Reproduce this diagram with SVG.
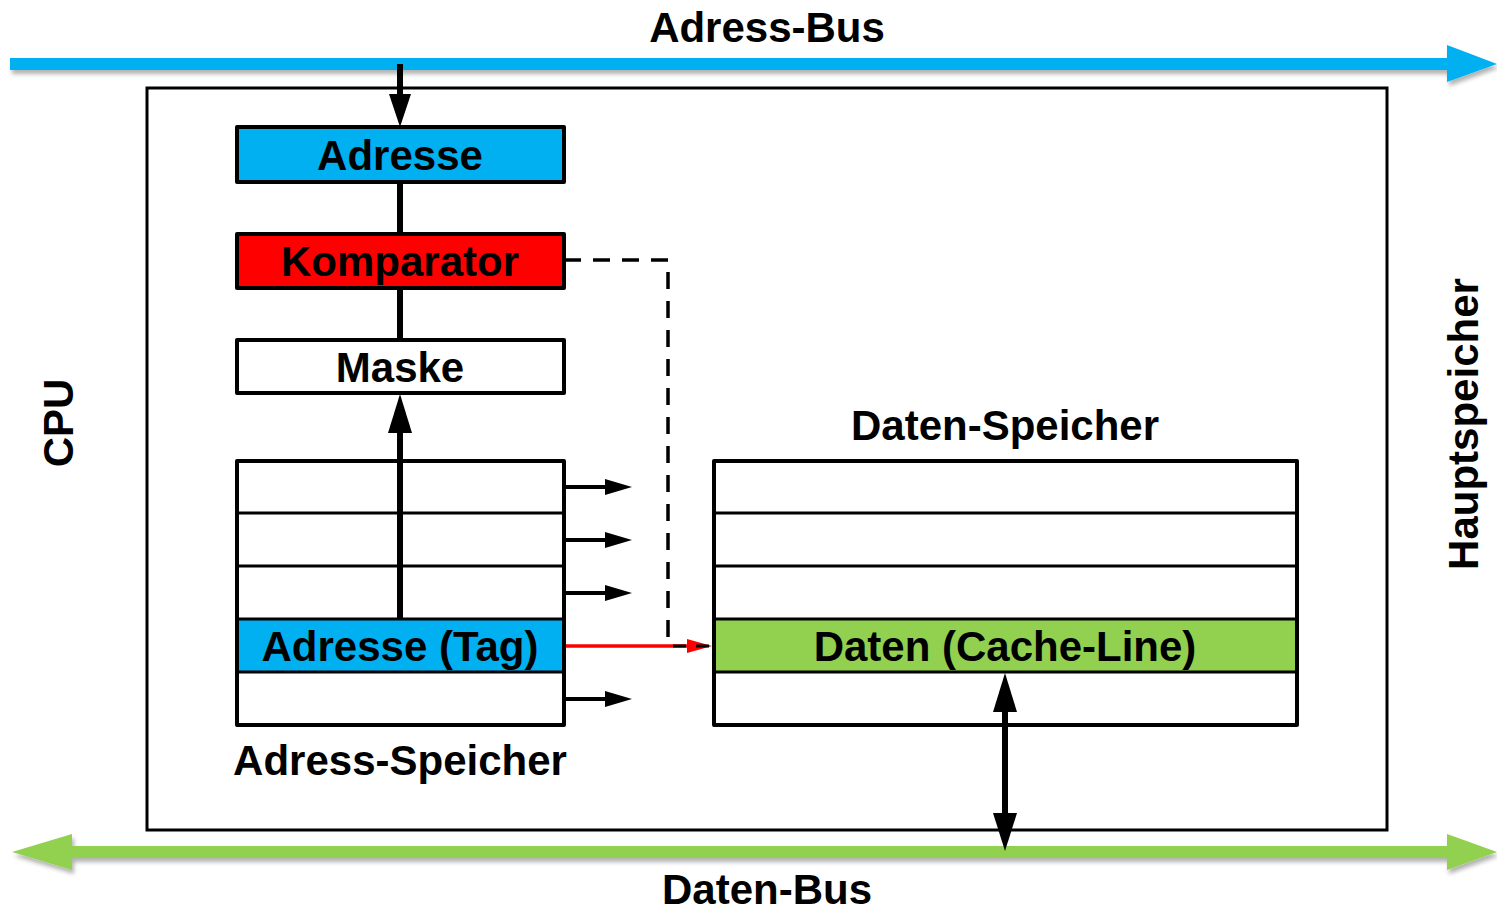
<svg xmlns="http://www.w3.org/2000/svg" width="1497" height="913" viewBox="0 0 1497 913">
<defs>
<filter id="sh" x="-5%" y="-50%" width="110%" height="200%">
<feDropShadow dx="2" dy="4" stdDeviation="2" flood-color="#000" flood-opacity="0.3"/>
</filter>
<style>
.t{font-family:"Liberation Sans",Arial,sans-serif;font-weight:bold;font-size:42px;fill:#000;text-anchor:middle}
.box{stroke:#000;stroke-width:4;stroke-linejoin:round}
.row{stroke:#000;stroke-width:3}
.ln{stroke:#000;fill:none}
</style>
</defs>
<rect width="1497" height="913" fill="#fff"/>
<g id="cpu">
<rect x="147" y="88" width="1240" height="742" fill="none" stroke="#000" stroke-width="3"/>
<text class="t" transform="translate(73,423) rotate(-90)">CPU</text>
</g>
<g id="hauptspeicher">
<text class="t" transform="translate(1478,424) rotate(-90)">Hauptspeicher</text>
</g>
<g id="adress-bus">
<g filter="url(#sh)">
<rect x="10" y="58" width="1440" height="12" fill="#00B0F0"/>
<polygon points="1447,45 1497,64 1447,82" fill="#00B0F0"/>
</g>
<text class="t" x="767" y="42">Adress-Bus</text>
</g>
<g id="daten-bus">
<g filter="url(#sh)">
<rect x="68" y="846" width="1382" height="12" fill="#92D050"/>
<polygon points="72,834 12,852 72,870" fill="#92D050"/>
<polygon points="1447,834 1497,852 1447,870" fill="#92D050"/>
</g>
<text class="t" x="767" y="904">Daten-Bus</text>
</g>
<g id="connectors">
<line class="ln" x1="400" y1="64" x2="400" y2="96" stroke-width="6"/>
<polygon points="389,94 411,94 400,127"/>
<line class="ln" x1="400" y1="182" x2="400" y2="234" stroke-width="6"/>
<line class="ln" x1="400" y1="288" x2="400" y2="340" stroke-width="6"/>
<line class="ln" x1="400" y1="619" x2="400" y2="430" stroke-width="6"/>
<polygon points="388,433 412,433 400,394"/>
<g stroke="#000" stroke-width="4">
<line x1="564" y1="487" x2="608" y2="487"/>
<line x1="564" y1="540" x2="608" y2="540"/>
<line x1="564" y1="593" x2="608" y2="593"/>
<line x1="564" y1="699" x2="608" y2="699"/>
</g>
<polygon points="605,479 632,487 605,495"/>
<polygon points="605,532 632,540 605,548"/>
<polygon points="605,585 632,593 605,601"/>
<polygon points="605,691 632,699 605,707"/>
<path class="ln" d="M564,260 H668 V637" stroke-width="3.5" stroke-dasharray="17,12"/>
<line x1="564" y1="646" x2="692" y2="646" stroke="#FF0000" stroke-width="3.5"/>
<polygon points="687,639 712,646 687,653" fill="#FF0000"/>
<line x1="673" y1="646" x2="712" y2="646" stroke="#000" stroke-width="3" stroke-dasharray="13,10"/>
<line class="ln" x1="1005" y1="705" x2="1005" y2="820" stroke-width="6"/>
<polygon points="993,712 1017,712 1005,673"/>
<polygon points="993,813 1017,813 1005,851"/>
</g>
<g id="adresse">
<rect class="box" x="237" y="127" width="327" height="55" fill="#00B0F0"/>
<text class="t" x="400" y="170">Adresse</text>
</g>
<g id="komparator">
<rect class="box" x="237" y="234" width="327" height="54" fill="#FF0000"/>
<text class="t" x="400" y="276">Komparator</text>
</g>
<g id="maske">
<rect class="box" x="237" y="340" width="327" height="53" fill="#fff"/>
<text class="t" x="400" y="382">Maske</text>
</g>
<g id="adress-speicher">
<rect x="237" y="619" width="327" height="53" fill="#00B0F0"/>
<rect class="box" x="237" y="461" width="327" height="264" fill="none"/>
<line class="row" x1="237" y1="513" x2="564" y2="513"/>
<line class="row" x1="237" y1="566" x2="564" y2="566"/>
<line class="row" x1="237" y1="619" x2="564" y2="619"/>
<line class="row" x1="237" y1="672" x2="564" y2="672"/>
<text class="t" x="400" y="661">Adresse (Tag)</text>
<text class="t" x="400" y="775">Adress-Speicher</text>
</g>
<g id="daten-speicher">
<rect x="714" y="619" width="583" height="53" fill="#92D050"/>
<rect class="box" x="714" y="461" width="583" height="264" fill="none"/>
<line class="row" x1="714" y1="513" x2="1297" y2="513"/>
<line class="row" x1="714" y1="566" x2="1297" y2="566"/>
<line class="row" x1="714" y1="619" x2="1297" y2="619"/>
<line class="row" x1="714" y1="672" x2="1297" y2="672"/>
<text class="t" x="1005" y="661">Daten (Cache-Line)</text>
<text class="t" x="1005" y="440">Daten-Speicher</text>
</g>
</svg>
